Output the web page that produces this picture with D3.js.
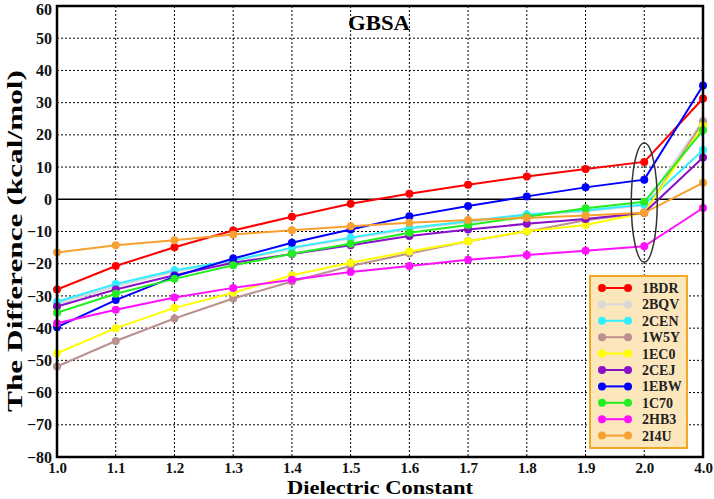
<!DOCTYPE html>
<html>
<head>
<meta charset="utf-8">
<script src="https://cdn.jsdelivr.net/npm/d3@7"></script>
<style>
  body { margin: 0; background: #fff; }
  text { font-family: "Liberation Serif", "Times New Roman", serif; font-weight: bold; }
</style>
</head>
<body>
<svg id="chart"></svg>
<script>
const categories = ["1.0", "1.1", "1.2", "1.3", "1.4", "1.5", "1.6", "1.7", "1.8", "1.9", "2.0", "4.0"]
const yTicks = d3.range(-80, 61, 10)

const seriesNames = ["1BDR", "2BQV", "2CEN", "1W5Y", "1EC0", "2CEJ", "1EBW", "1C70", "2HB3", "2I4U"]
const seriesColors = ["#ff0000", "#d8d8d8", "#33eeff", "#bc9090", "#ffff00", "#8a10c8", "#0000ff", "#22ee22", "#ff10ff", "#f8a030"]

const v1BDR = [-28, -20.7, -14.9, -9.7, -5.4, -1.4, 1.7, 4.5, 7.1, 9.4, 11.6, 31.3]
const v2BQV = [-32.5, -27, -22.5, -19.2, -15.3, -12.2, -9.2, -7.1, -5, -3.7, -1.9, 24.5]
const v2CEN = [-31.8, -26.3, -22, -19, -15, -11.9, -8.9, -6.8, -4.7, -3.4, -1.6, 15.3]
const v1W5Y = [-51.9, -44, -37, -30.8, -25.5, -20.7, -16.8, -13, -10, -6.5, -4.2, 24]
const v1EC0 = [-47.8, -40, -33.7, -29, -23.6, -19.7, -16.2, -13, -9.9, -8, -4.2, 22.9]
const v2CEJ = [-33.3, -28, -23.6, -19.7, -17, -14.3, -11.4, -9.4, -7.6, -6.1, -4.2, 13]
const v1EBW = [-39.7, -31.3, -24, -18.4, -13.5, -9.4, -5.3, -2.1, 0.9, 3.7, 6.1, 35.3]
const v1C70 = [-35.2, -29.3, -24.7, -20.5, -16.9, -13.8, -10.4, -8, -5.4, -2.8, -0.8, 21.4]
const v2HB3 = [-38.5, -34.3, -30.5, -27.5, -25, -22.6, -20.7, -18.8, -17.3, -16, -14.6, -2.7]
const v2I4U = [-16.5, -14.3, -12.7, -10.9, -9.6, -8.4, -7.3, -6.4, -5.8, -5, -4.2, 5.1]

const seriesValues = [v1BDR, v2BQV, v2CEN, v1W5Y, v1EC0, v2CEJ, v1EBW, v1C70, v2HB3, v2I4U]

const width = 714, height = 499
const margin = {top: 6, right: 11, bottom: 42, left: 57}

const svg = d3.select('#chart')
  .attr('width', width)
  .attr('height', height)

const x = d3.scalePoint().domain(categories).range([margin.left, width - margin.right])
const y = d3.scaleLinear().domain([-80, 60]).range([height - margin.bottom, margin.top])

// grid
svg.append('g')
  .selectAll('line.vgrid')
  .data(categories.slice(1, -1))
  .join('line')
  .attr('x1', d => x(d)).attr('x2', d => x(d))
  .attr('y1', margin.top).attr('y2', height - margin.bottom)
  .attr('stroke', '#000').attr('stroke-width', 1).attr('stroke-dasharray', '2,2')

svg.append('g')
  .selectAll('line.hgrid')
  .data(yTicks.filter(d => d !== 0 && d !== -80 && d !== 60))
  .join('line')
  .attr('x1', margin.left).attr('x2', width - margin.right)
  .attr('y1', d => y(d)).attr('y2', d => y(d))
  .attr('stroke', '#000').attr('stroke-width', 1).attr('stroke-dasharray', '2,2')

svg.append('line')
  .attr('x1', margin.left).attr('x2', width - margin.right)
  .attr('y1', y(0)).attr('y2', y(0))
  .attr('stroke', '#000').attr('stroke-width', 1.6)

// axes labels
const yAxis = d3.axisLeft(y).tickValues(yTicks).tickSize(0).tickPadding(5)
const yAxisG = svg.append('g')
  .attr('transform', `translate(${margin.left},0)`)
  .call(yAxis)
yAxisG.select('.domain').remove()
yAxisG.selectAll('text').style('font-size', '16px').attr('fill', '#111')
yAxisG.selectAll('.tick').filter(d => d === 60).select('text').attr('dy', '0.5em')

const xAxis = d3.axisBottom(x).tickSize(0).tickPadding(5)
const xAxisG = svg.append('g')
  .attr('transform', `translate(0,${height - margin.bottom})`)
  .call(xAxis)
xAxisG.select('.domain').remove()
xAxisG.selectAll('text').style('font-size', '15px').attr('fill', '#111')

// series
const line = d3.line().x((d, i) => x(categories[i])).y(d => y(d))

seriesValues.forEach((vals, k) => {
  const g = svg.append('g')
  g.append('path')
    .datum(vals)
    .attr('d', line)
    .attr('fill', 'none')
    .attr('stroke', seriesColors[k])
    .attr('stroke-width', 2)
  g.selectAll('circle')
    .data(vals)
    .join('circle')
    .attr('cx', (d, i) => x(categories[i]))
    .attr('cy', d => y(d))
    .attr('r', 4)
    .attr('fill', seriesColors[k])
})

// ellipse around 2.0
svg.append('ellipse')
  .attr('cx', x('2.0'))
  .attr('cy', y(-1))
  .attr('rx', 13)
  .attr('ry', (y(-19.5) - y(17.5)) / 2)
  .attr('fill', 'none')
  .attr('stroke', '#333')
  .attr('stroke-width', 1.5)

// frame
svg.append('rect')
  .attr('x', margin.left).attr('y', margin.top)
  .attr('width', width - margin.left - margin.right)
  .attr('height', height - margin.top - margin.bottom)
  .attr('fill', 'none').attr('stroke', '#000').attr('stroke-width', 2.5)

// titles
svg.append('text')
  .attr('x', 379).attr('y', 30)
  .attr('text-anchor', 'middle')
  .attr('textLength', 62).attr('lengthAdjust', 'spacingAndGlyphs')
  .style('font-size', '20px')
  .text('GBSA')

svg.append('text')
  .attr('x', 380).attr('y', 494)
  .attr('text-anchor', 'middle')
  .attr('textLength', 186).attr('lengthAdjust', 'spacingAndGlyphs')
  .style('font-size', '19px')
  .text('Dielectric Constant')

svg.append('text')
  .attr('transform', `translate(22,241) rotate(-90)`)
  .attr('text-anchor', 'middle')
  .attr('textLength', 342).attr('lengthAdjust', 'spacingAndGlyphs')
  .style('font-size', '22px')
  .text('The Difference (kcal/mol)')

// legend
const legend = svg.append('g').attr('transform', 'translate(590,276)')
legend.append('rect')
  .attr('width', 97).attr('height', 172)
  .attr('fill', '#fce6bc')
  .attr('stroke', '#f5a623').attr('stroke-width', 2)

const items = legend.selectAll('g.item')
  .data(seriesNames)
  .join('g')
  .attr('transform', (d, i) => `translate(0,${12 + i * 16.4})`)

items.append('line')
  .attr('x1', 12).attr('x2', 38)
  .attr('stroke', (d, i) => seriesColors[i]).attr('stroke-width', 2)
items.append('circle').attr('cx', 12).attr('r', 4).attr('fill', (d, i) => seriesColors[i])
items.append('circle').attr('cx', 38).attr('r', 4).attr('fill', (d, i) => seriesColors[i])
items.append('text')
  .attr('x', 52).attr('dy', '0.35em')
  .style('font-size', '14px')
  .attr('fill', '#222')
  .text(d => d)
</script>
</body>
</html>
